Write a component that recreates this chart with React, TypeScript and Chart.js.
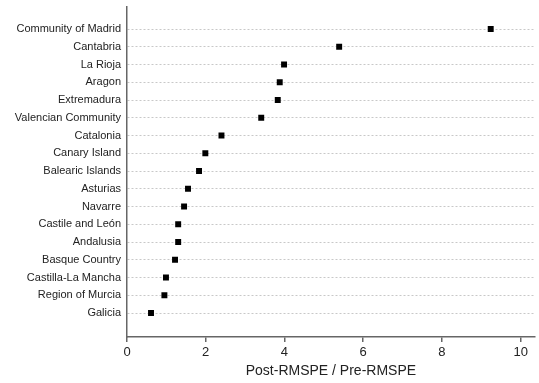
import React, { useEffect, useRef } from "react";
import { Chart, registerables } from "chart.js";

Chart.register(...registerables);

// Categories from top to bottom
const regions = [
  "Community of Madrid",
  "Cantabria",
  "La Rioja",
  "Aragon",
  "Extremadura",
  "Valencian Community",
  "Catalonia",
  "Canary Island",
  "Balearic Islands",
  "Asturias",
  "Navarre",
  "Castile and León",
  "Andalusia",
  "Basque Country",
  "Castilla-La Mancha",
  "Region of Murcia",
  "Galicia",
];

const ratios = [9.24, 5.39, 3.99, 3.88, 3.83, 3.41, 2.4, 1.99, 1.83, 1.55, 1.45, 1.3, 1.3, 1.22, 0.99, 0.95, 0.61];

const xTicks = [0, 2, 4, 6, 8, 10];
const xTitle = "Post-RMSPE / Pre-RMSPE";

export default function App() {
  const ref = useRef<HTMLCanvasElement | null>(null);

  useEffect(() => {
    if (!ref.current) return;
    const n = regions.length;
    const points = regions.map((_, i) => ({ x: ratios[i], y: n - i }));
    const chart = new Chart(ref.current, {
      type: "scatter",
      data: {
        datasets: [
          {
            data: points,
            pointStyle: "rect",
            pointRadius: 4.2,
            pointHoverRadius: 4.2,
            backgroundColor: "#000",
            borderColor: "#000",
            borderWidth: 0,
          },
        ],
      },
      options: {
        animation: false,
        responsive: true,
        maintainAspectRatio: false,
        layout: { padding: { top: 7, right: 4, left: 0, bottom: 0 } },
        plugins: { legend: { display: false }, tooltip: { enabled: false } },
        scales: {
          x: {
            type: "linear",
            min: 0,
            max: 10.36,
            afterBuildTicks: (s: any) => {
              s.ticks = xTicks.map((v) => ({ value: v }));
            },
            afterFit: (s: any) => {
              s.height = 46;
            },
            grid: {
              drawOnChartArea: false,
              drawTicks: true,
              tickLength: 5,
              color: "#666",
              lineWidth: 1.5,
            },
            border: { display: true, color: "#666", width: 1.5 },
            ticks: {
              padding: 3,
              color: "#222",
              font: { family: "'Liberation Sans', Arial, sans-serif", size: 13 },
              maxRotation: 0,
            },
            title: {
              display: true,
              text: xTitle,
              color: "#222",
              font: { family: "'Liberation Sans', Arial, sans-serif", size: 14 },
              padding: { top: 0, bottom: 3 },
            },
          },
          y: {
            type: "linear",
            min: -0.35,
            max: 18.24,
            afterBuildTicks: (s: any) => {
              s.ticks = regions.map((_, i) => ({ value: n - i }));
            },
            afterFit: (s: any) => {
              s.width = 127;
            },
            grid: {
              drawTicks: true,
              tickLength: 6,
              tickColor: "rgba(0,0,0,0)",
              color: "#c8c8c8",
              lineWidth: 1,
            },
            border: { display: true, color: "#666", width: 1.5, dash: [2, 2] },
            ticks: {
              padding: 0,
              color: "#222",
              font: { family: "'Liberation Sans', Arial, sans-serif", size: 11 },
              callback: (v: any) => {
                const idx = n - Number(v);
                return regions[idx] ?? "";
              },
            },
          },
        },
      },
    });
    return () => chart.destroy();
  }, []);

  return (
    <div style={{ position: "fixed", left: 0, top: 0, width: 539, height: 383, background: "#fff" }}>
      <canvas ref={ref} />
    </div>
  );
}
